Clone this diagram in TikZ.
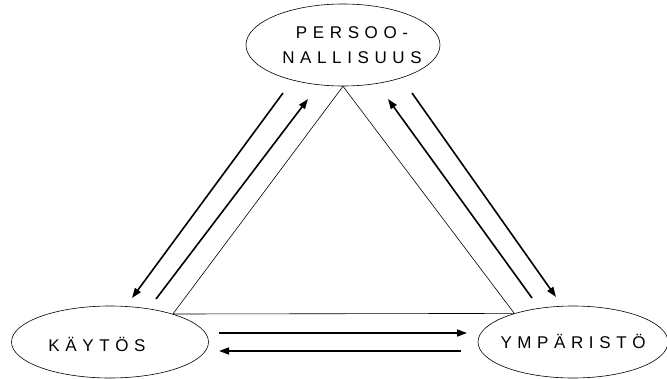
\documentclass[tikz,border=0pt]{standalone}
\usepackage{fontspec}
\setmainfont{Liberation Sans}
\newfontfamily\spacedfont[LetterSpace=33]{Liberation Sans}
\usepackage{tikz}
\usetikzlibrary{shapes.geometric,arrows.meta}

\tikzset{
  oval/.style={draw, ellipse, line width=0.6pt, inner sep=0pt},
  caption/.style={font=\spacedfont\fontsize{17}{25}\selectfont, align=center, inner sep=0pt},
  edge/.style={line width=0.6pt},
  flow/.style={line width=1.6pt, -{Triangle[length=10pt,width=7pt]}}
}

\begin{document}
\begin{tikzpicture}[x=1pt,y=-1pt]
  \useasboundingbox (0,0) rectangle (667,378);
  % the three ovals
  \node[oval, minimum width=194pt, minimum height=82pt] (per) at (343,45) {};
  \node[oval, minimum width=197pt, minimum height=72pt] (kay) at (110,342) {};
  \node[oval, minimum width=190pt, minimum height=72pt] (ymp) at (573,342) {};
  \node[caption] (pertxt) at (352,45) {PERSOO-\\NALLISUUS};
  \node[caption] (kaytxt) at (97,344) {KÄYTÖS};
  \node[caption] (ymptxt) at (573,341) {YMPÄRISTÖ};
  % triangle
  \draw[edge] (per.south) -- (kay.24) -- (ymp.154) -- cycle;
  % arrow ends
  \coordinate (a1) at (283,93);  \coordinate (a2) at (132,298);
  \coordinate (b1) at (156,299); \coordinate (b2) at (308,99);
  \coordinate (c1) at (412,93);  \coordinate (c2) at (556,297);
  \coordinate (d1) at (532,298); \coordinate (d2) at (388,99);
  \coordinate (e1) at (219,333); \coordinate (e2) at (467,333);
  \coordinate (f1) at (461,351); \coordinate (f2) at (219,351);
  \draw[flow] (a1) -- (a2);
  \draw[flow] (b1) -- (b2);
  \draw[flow] (c1) -- (c2);
  \draw[flow] (d1) -- (d2);
  \draw[flow] (e1) -- (e2);
  \draw[flow] (f1) -- (f2);
\end{tikzpicture}
\end{document}
